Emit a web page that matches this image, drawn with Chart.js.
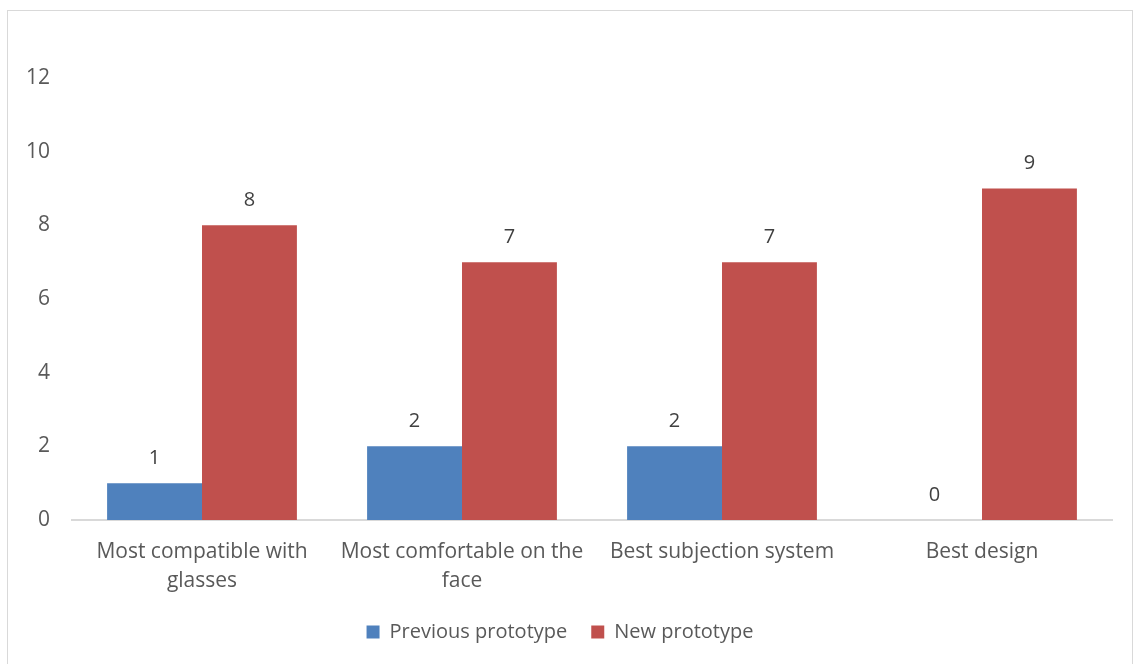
<!DOCTYPE html>
<html>
<head>
<meta charset="utf-8">
<script src="https://cdn.jsdelivr.net/npm/chart.js@4.4.1/dist/chart.umd.min.js"></script>
<style>
    html, body { margin: 0; padding: 0; background: #fff; }
    #frame {
        position: absolute; left: 7px; top: 10px; width: 1126px; height: 660px;
        border: 1px solid #d9d9d9; box-sizing: border-box;
    }
    #wrap { position: absolute; left: 0; top: 0; width: 1134px; height: 664px; }
</style>
</head>
<body>
<div id="frame"></div>
<div id="wrap"><canvas id="barChart"></canvas></div>
<script>
const categories = [
    ['Most compatible with', 'glasses'],
    ['Most comfortable on the', 'face'],
    'Best subjection system',
    'Best design'
];
const previousPrototype = [1, 2, 2, 0];
const newPrototype = [8, 7, 7, 9];
const yTicks = [0, 2, 4, 6, 8, 10, 12];

const textColor = '#595959';
const fontFamily = '"Open Sans", "Noto Sans", sans-serif';

// draws the value above every bar, like excel data labels
const valueLabels = {
    id: 'valueLabels',
    afterDatasetsDraw(chart) {
        const ctx = chart.ctx;
        ctx.save();
        ctx.font = '20px ' + fontFamily;
        ctx.fillStyle = '#404040';
        ctx.textAlign = 'center';
        ctx.textBaseline = 'bottom';
        chart.data.datasets.forEach((ds, i) => {
            chart.getDatasetMeta(i).data.forEach((bar, j) => {
                ctx.fillText(ds.data[j], bar.x, bar.y - 15);
            });
        });
        ctx.restore();
    }
};

new Chart(document.getElementById('barChart'), {
    type: 'bar',
    data: {
        labels: categories,
        datasets: [
            {
                label: 'Previous prototype',
                data: previousPrototype,
                backgroundColor: '#4F81BD',
                borderWidth: 0
            },
            {
                label: 'New prototype',
                data: newPrototype,
                backgroundColor: '#C0504D',
                borderWidth: 0
            }
        ]
    },
    options: {
        responsive: true,
        maintainAspectRatio: false,
        animation: false,
        datasets: {
            bar: { categoryPercentage: 0.73, barPercentage: 1 }
        },
        layout: {
            padding: { left: 8, right: 22, top: 78, bottom: 12 }
        },
        scales: {
            x: {
                afterFit(scale) { scale.height = 78; },
                grid: { display: false, drawTicks: false },
                border: { display: true, color: '#d9d9d9', width: 2 },
                ticks: {
                    color: textColor,
                    font: { family: fontFamily, size: 21, lineHeight: 1.35 },
                    padding: 18,
                    maxRotation: 0
                }
            },
            y: {
                min: 0,
                max: 12,
                afterFit(scale) { scale.width = 64; },
                afterBuildTicks(scale) { scale.ticks = yTicks.map(v => ({ value: v })); },
                grid: { display: false, drawTicks: false },
                border: { display: false },
                ticks: {
                    color: textColor,
                    font: { family: fontFamily, size: 21 },
                    padding: 22
                }
            }
        },
        plugins: {
            legend: {
                position: 'bottom',
                labels: {
                    color: textColor,
                    font: { family: fontFamily, size: 20 },
                    boxWidth: 13,
                    boxHeight: 13,
                    padding: 24
                }
            },
            tooltip: { enabled: false }
        }
    },
    plugins: [valueLabels]
});
</script>
</body>
</html>
